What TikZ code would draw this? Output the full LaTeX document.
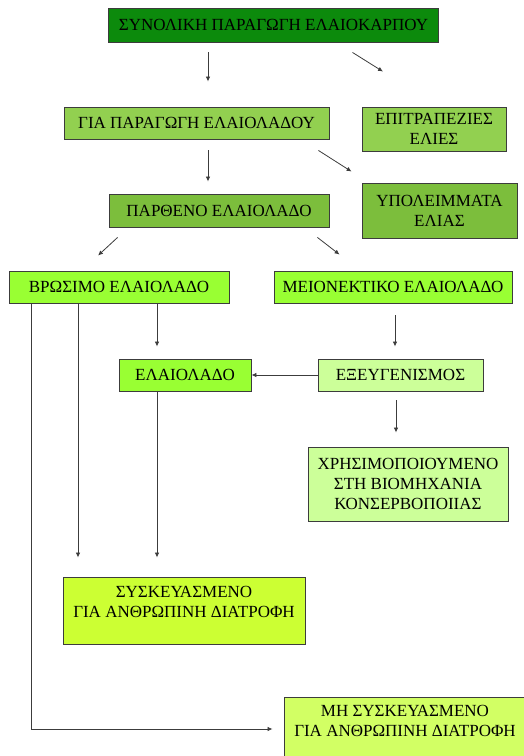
\documentclass[tikz,border=0pt]{standalone}
\usepackage{fontspec}
\setmainfont{Liberation Serif}
\usetikzlibrary{arrows.meta,calc}
\definecolor{cTop}{RGB}{12,138,12}
\definecolor{cMid}{RGB}{146,208,80}
\definecolor{cDark}{RGB}{124,190,60}
\definecolor{cLime}{RGB}{153,255,51}
\definecolor{cPale}{RGB}{204,255,153}
\definecolor{cYel}{RGB}{204,255,51}
\definecolor{cYel2}{RGB}{210,255,100}
\definecolor{cLine}{RGB}{60,60,60}
\tikzset{
  box/.style={draw=cLine, line width=0.9pt, inner sep=0pt, align=center,
    font=\fontsize{17}{20}\selectfont},
  lbl/.style={inner sep=0pt, align=center, font=\fontsize{17}{20}\selectfont},
  arr/.style={draw=cLine, line width=0.8pt, -{Latex[length=5pt,width=4.5pt]}},
  ln/.style={draw=cLine, line width=0.8pt}
}
\begin{document}
\begin{tikzpicture}[x=1pt,y=-1pt]
\path[use as bounding box] (0,0) rectangle (524,756);
\clip (0,0) rectangle (524,756);
% boxes
\node[box, fill=cTop, minimum width=330pt, minimum height=34pt] (top) at (273.5,25) {ΣΥΝΟΛΙΚΗ ΠΑΡΑΓΩΓΗ ΕΛΑΙΟΚΑΡΠΟΥ};
\node[box, fill=cMid, minimum width=265pt, minimum height=32pt] (gia) at (196.5,123) {ΓΙΑ ΠΑΡΑΓΩΓΗ ΕΛΑΙΟΛΑΔΟΥ};
\node[box, fill=cMid, minimum width=144pt, minimum height=44pt] (epi) at (434,129) {ΕΠΙΤΡΑΠΕΖΙΕΣ\\ΕΛΙΕΣ};
\node[box, fill=cDark, minimum width=220pt, minimum height=33pt] (parth) at (219,210.5) {ΠΑΡΘΕΝΟ ΕΛΑΙΟΛΑΔΟ};
\node[box, fill=cDark, minimum width=155pt, minimum height=55pt] (ypo) at (439.5,210.5) {ΥΠΟΛΕΙΜΜΑΤΑ\\ΕΛΙΑΣ};
\node[box, fill=cLime, minimum width=220pt, minimum height=32pt] (vro) at (119,287) {ΒΡΩΣΙΜΟ ΕΛΑΙΟΛΑΔΟ};
\node[box, fill=cLime, minimum width=238pt, minimum height=32pt] (meio) at (393,287) {ΜΕΙΟΝΕΚΤΙΚΟ ΕΛΑΙΟΛΑΔΟ};
\node[box, fill=cLime, minimum width=132pt, minimum height=32pt] (elaio) at (185,375) {ΕΛΑΙΟΛΑΔΟ};
\node[box, fill=cPale, minimum width=165pt, minimum height=32pt] (exeu) at (400.5,375) {ΕΞΕΥΓΕΝΙΣΜΟΣ};
\node[box, fill=cPale, minimum width=200pt, minimum height=74pt] (xrisi) at (408,484) {ΧΡΗΣΙΜΟΠΟΙΟΥΜΕΝΟ\\ΣΤΗ ΒΙΟΜΗΧΑΝΙΑ\\ΚΟΝΣΕΡΒΟΠΟΙΙΑΣ};
\node[box, fill=cYel, minimum width=242pt, minimum height=67pt] (sysk) at (184,610.5) {};
\node[lbl] (syskT) at (184,601.5) {ΣΥΣΚΕΥΑΣΜΕΝΟ\\ΓΙΑ ΑΝΘΡΩΠΙΝΗ ΔΙΑΤΡΟΦΗ};
\node[box, fill=cYel2, minimum width=242pt, minimum height=68pt] (mis) at (405,731) {};
\node[lbl] (misT) at (405,720.5) {ΜΗ ΣΥΣΚΕΥΑΣΜΕΝΟ\\ΓΙΑ ΑΝΘΡΩΠΙΝΗ ΔΙΑΤΡΟΦΗ};
% connectors
\draw[arr, shorten <=10pt, shorten >=25pt] ([xshift=11.5pt]gia.north |- top.south) -- ([xshift=11.5pt]gia.north);
\draw[arr] ($(top.south)+(79,10)$) -- ($(epi.north)+(-51,-35)$);
\draw[arr, shorten <=11pt, shorten >=12pt] ([xshift=11.5pt]gia.south) -- ([xshift=11.5pt]gia.south |- parth.north);
\draw[arr] ($(gia.south east)+(-11,11)$) -- ($(ypo.north west)+(-10,-11)$);
\draw[arr] ($(parth.south west)+(9,10)$) -- ($(vro.north)+(-21,-15)$);
\draw[arr] ($(parth.south east)+(-12,10)$) -- ($(meio.north west)+(66,-16)$);
\draw[arr] ([xshift=-88pt]vro.south) -- ([xshift=-88pt]vro.south |- 0,729) -- ([xshift=-11pt]mis.west |- 0,729);
\draw[arr, shorten >=19pt] ([xshift=-41pt]vro.south) -- ([xshift=-41pt]vro.south |- sysk.north);
\draw[arr, shorten >=12pt] ([xshift=38pt]vro.south) -- ([xshift=38pt]vro.south |- elaio.north);
\draw[arr, shorten >=19pt] ([xshift=-28pt]elaio.south) -- ([xshift=-28pt]elaio.south |- sysk.north);
\draw[arr, shorten <=12pt, shorten >=12pt] ([xshift=2pt]meio.south) -- ([xshift=2pt]meio.south |- exeu.north);
\draw[arr] (exeu.west) -- (elaio.east);
\draw[arr, shorten <=9pt, shorten >=14pt] ([xshift=-4.5pt]exeu.south) -- ([xshift=-4.5pt]exeu.south |- xrisi.north);
\end{tikzpicture}
\end{document}
